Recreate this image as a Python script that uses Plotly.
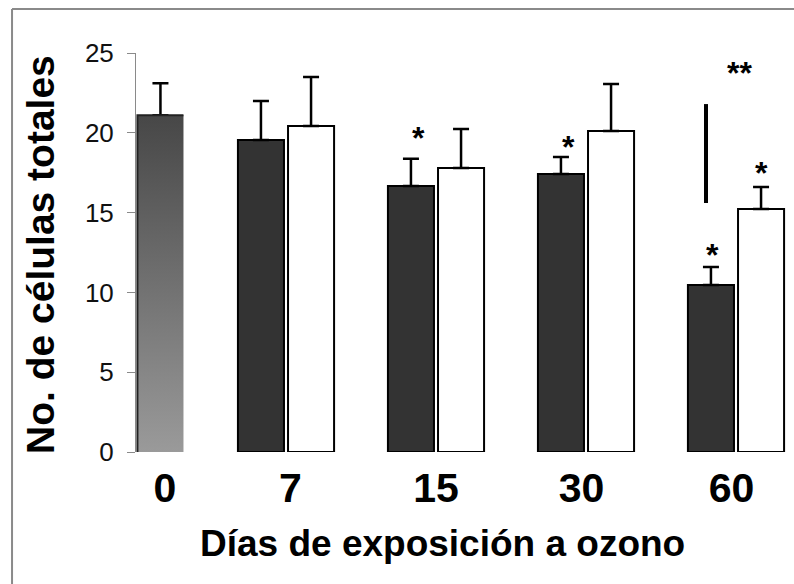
import plotly.graph_objects as go

# ---- data ----
categories = ["0", "7", "15", "30", "60"]
control_value = 21.1
control_err = 2.0
dark_values = [19.55, 16.67, 17.42, 10.46]
dark_errs = [2.44, 1.70, 1.07, 1.13]
white_values = [20.43, 17.79, 20.11, 15.23]
white_errs = [3.07, 2.45, 2.95, 1.38]

# significance marks: (x position in category units, y value, text)
star_x = [1.88, 2.88, 3.84, 4.17, 4.02]
star_y = [19.99, 19.42, 12.66, 17.79, 24.06]
star_text = ["*", "*", "*", "*", "**"]
sig_line_x = 3.8
sig_line_y = [15.6, 21.8]

FONT = "Arial, Liberation Sans, sans-serif"
off = 0.167
bw = 0.307

grp_idx = [1, 2, 3, 4]
dark_x = [i - off for i in grp_idx]
white_x = [i + off for i in grp_idx]
ctrl_x = off - 0.004

fig = go.Figure()

err_style = dict(type="data", symmetric=False, color="black", thickness=2.5, width=8)

# control bar (invisible bar carrying the error bar)
fig.add_trace(go.Bar(
    x=[ctrl_x], y=[control_value], width=[bw],
    marker=dict(color="rgba(0,0,0,0)", line=dict(width=0)),
    error_y=dict(array=[control_err], arrayminus=[0], **err_style),
    showlegend=False, hoverinfo="skip"))

fig.add_trace(go.Bar(
    x=dark_x, y=dark_values, width=[bw] * 4,
    marker=dict(color="#333333", line=dict(color="black", width=2)),
    error_y=dict(array=dark_errs, arrayminus=[0] * 4, **err_style),
    showlegend=False))

fig.add_trace(go.Bar(
    x=white_x, y=white_values, width=[bw] * 4,
    marker=dict(color="white", line=dict(color="black", width=2)),
    error_y=dict(array=white_errs, arrayminus=[0] * 4, **err_style),
    showlegend=False))

# gradient fill for the control bar
l, r = ctrl_x - bw / 2, ctrl_x + bw / 2
fig.add_trace(go.Scatter(
    x=[l, r, r, l, l], y=[0, 0, control_value, control_value, 0],
    mode="lines", line=dict(width=0), fill="toself",
    fillgradient=dict(type="vertical", colorscale=[[0, "#9a9a9a"], [1, "#474747"]]),
    showlegend=False, hoverinfo="skip"))
fig.add_trace(go.Scatter(
    x=[l, l, r], y=[0, control_value, control_value],
    mode="lines", line=dict(color="#222222", width=2),
    showlegend=False, hoverinfo="skip"))

for sx, sy, st in zip(star_x, star_y, star_text):
    fig.add_annotation(x=sx, y=sy, text=st, showarrow=False, yshift=-5,
                       xanchor="center", yanchor="middle",
                       font=dict(family=FONT, size=32, color="black", weight="bold"))

fig.add_shape(type="line", x0=sig_line_x, x1=sig_line_x, y0=sig_line_y[0], y1=sig_line_y[1],
              line=dict(color="black", width=4))

# figure border (left and top visible)
fig.add_shape(type="line", xref="paper", yref="paper", x0=-0.1884, x1=-0.1884, y0=-0.5, y1=1.1103,
              line=dict(color="#8a8a8a", width=2))
fig.add_shape(type="line", xref="paper", yref="paper", x0=-0.1884, x1=1.05, y0=1.1103, y1=1.1103,
              line=dict(color="#8a8a8a", width=2))

# axis titles
fig.add_annotation(xref="paper", yref="paper", x=(442 - 136) / 658, y=(452 - 543) / 399,
                   xanchor="center", yanchor="middle",
                   text="Días de exposición a ozono", showarrow=False,
                   font=dict(family=FONT, size=37, color="black", weight="bold"))
fig.add_annotation(xref="paper", yref="paper", x=(40 - 136) / 658, y=(452 - 255) / 399,
                   xanchor="center", yanchor="middle",
                   text="No. de células totales", showarrow=False, textangle=-90,
                   font=dict(family=FONT, size=39, color="black", weight="bold"))

fig.update_layout(
    width=794, height=584,
    margin=dict(l=136, r=0, t=53, b=132),
    paper_bgcolor="white", plot_bgcolor="white",
    barmode="overlay",
    xaxis=dict(range=[0, 658 / 150], showgrid=False, zeroline=False, showline=False,
               ticks="", tickmode="array", tickvals=[ctrl_x + 0.03, 1.03, 2.0, 2.97, 3.97],
               ticktext=categories, ticklabelstandoff=8,
               tickfont=dict(family=FONT, size=41, color="black", weight="bold")),
    yaxis=dict(range=[0, 25], dtick=5, showgrid=False, zeroline=False, showline=True,
               linecolor="#8a8a8a", linewidth=1, ticks="outside", ticklen=8,
               tickcolor="#8a8a8a", tickwidth=1, ticklabelstandoff=8,
               tickfont=dict(family=FONT, size=26, color="#111111")),
)

fig.write_html("out.html")
